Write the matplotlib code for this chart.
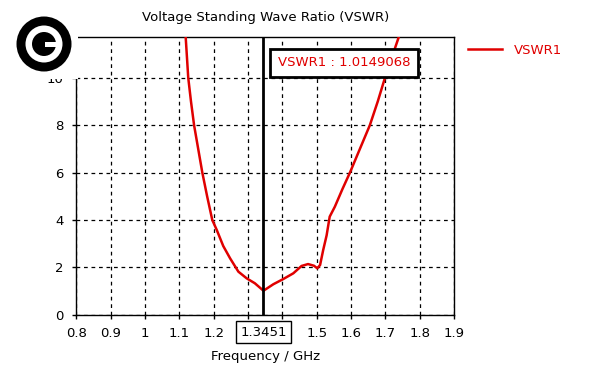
import matplotlib
matplotlib.use("Agg")
import matplotlib.pyplot as plt
from matplotlib.patches import Rectangle, Ellipse

# ---- data ----
freq_ghz = [1.117, 1.1185, 1.126, 1.134, 1.143, 1.155, 1.167, 1.181, 1.196, 1.209,
            1.228, 1.248, 1.272, 1.296, 1.320, 1.3451, 1.374, 1.403, 1.432, 1.456,
            1.475, 1.492, 1.502, 1.510, 1.519, 1.529, 1.538, 1.553, 1.575, 1.597,
            1.626, 1.655, 1.678, 1.699, 1.720, 1.7395, 1.745]
vswr = [12.2, 11.73, 10.0, 9.0, 8.0, 7.0, 6.0, 5.0, 4.0, 3.58,
        2.9, 2.38, 1.82, 1.54, 1.33, 1.015, 1.29, 1.51, 1.75, 2.06,
        2.14, 2.07, 1.96, 2.1, 2.73, 3.35, 4.14, 4.56, 5.3, 6.0,
        7.0, 8.0, 9.0, 10.0, 10.9, 11.73, 12.0]
x_ticks = [0.8, 0.9, 1.0, 1.1, 1.2, 1.3, 1.4, 1.5, 1.6, 1.7, 1.8, 1.9]
x_tick_labels = ['0.8', '0.9', '1', '1.1', '1.2', '', '', '1.5', '1.6', '1.7', '1.8', '1.9']
y_ticks = [0, 2, 4, 6, 8, 10]
y_tick_labels = ['0', '2', '4', '6', '8', '10']
marker_freq = 1.3451
marker_label = '1.3451'
marker_text = 'VSWR1 : 1.0149068'
series_name = 'VSWR1'
title = 'Voltage Standing Wave Ratio (VSWR)'
xlabel = 'Frequency / GHz'

RED = '#e00000'
plt.rcParams['font.family'] = ['DejaVu Sans']
FS = 9.5

W, H = 591, 366
fig = plt.figure(figsize=(W / 100, H / 100), dpi=100)
L, R, T, B = 76.3, 454.0, 36.7, 314.8
YMAX = 11.73
ax = fig.add_axes([L / W, 1 - B / H, (R - L) / W, (B - T) / H])

ax.set_xlim(0.8, 1.9)
ax.set_ylim(0, YMAX)
ax.set_xticks(x_ticks)
ax.set_xticklabels(x_tick_labels)
ax.set_yticks(y_ticks)
ax.set_yticklabels(y_tick_labels)
ax.tick_params(direction='out', length=3, width=1, color='black', labelsize=FS, pad=6)
ax.grid(True, color='black', linestyle=(0, (3, 3)), linewidth=0.9)
for s in ax.spines.values():
    s.set_color('black')
    s.set_linewidth(1)

line, = ax.plot(freq_ghz, vswr, color=RED, lw=1.8, label=series_name, zorder=3,
                solid_joinstyle='round')
ax.axvline(marker_freq, color='black', lw=2, zorder=4)

ax.set_title(title, fontsize=FS, pad=11)
ax.set_xlabel(xlabel, fontsize=FS, labelpad=7)

# marker value box
ax.text((344 - L) / (R - L), 1 - (63 - T) / (B - T), marker_text,
        transform=ax.transAxes, fontsize=FS, color=RED,
        ha='center', va='center', zorder=6,
        bbox=dict(boxstyle='square,pad=0.55', fc='white', ec='black', lw=2))

# marker x label box
ax.text(marker_freq, -(332 - B) / (B - T) * YMAX, marker_label, fontsize=FS, color='black',
        ha='center', va='center', clip_on=False, zorder=6,
        bbox=dict(boxstyle='square,pad=0.35', fc='white', ec='black', lw=1))

# legend
leg = fig.legend(handles=[line], labels=[series_name], loc='center left',
                 bbox_to_anchor=(456 / W, 1 - 50 / H), frameon=False, fontsize=FS,
                 handlelength=2.6, handletextpad=0.9)
for t in leg.get_texts():
    t.set_color(RED)

# logo with white background (partly hiding the top of the axis)
fig.patches.append(Rectangle((0, 1 - 78.5 / H), 77.5 / W, 78.5 / H, transform=fig.transFigure,
                             fc='white', ec='none', zorder=10))
cx, cy = 44, 44
def ell(r, color, z):
    fig.patches.append(Ellipse((cx / W, 1 - cy / H), 2 * r / W, 2 * r / H,
                               transform=fig.transFigure, fc=color, ec='none', zorder=z))
ell(27.5, 'black', 11)
ell(18.5, 'white', 12)
ell(12.0, 'black', 13)
fig.patches.append(Rectangle((45 / W, 1 - 47 / H), 15 / W, 5.5 / H, transform=fig.transFigure,
                             fc='white', ec='none', zorder=14))

fig.savefig('out.png', dpi=100)
